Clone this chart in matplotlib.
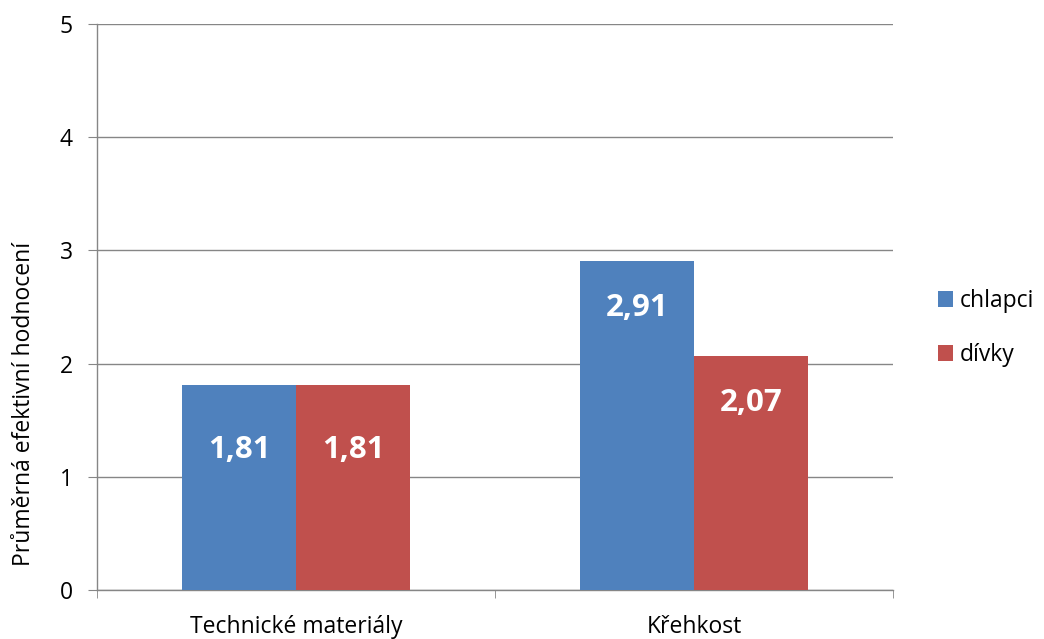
import matplotlib
matplotlib.use("Agg")
import matplotlib.pyplot as plt
import numpy as np
from matplotlib.patches import Patch

plt.rcParams['font.family'] = ['Open Sans', 'DejaVu Sans']

categories = ["Technické materiály", "Křehkost"]
series_names = ["chlapci", "dívky"]
chlapci = [1.81, 2.91]
divky = [1.81, 2.07]
colors = ["#4F81BD", "#C0504D"]
y_ticks = [0, 1, 2, 3, 4, 5]
y_label = "Průměrná efektivní hodnocení"

fig = plt.figure(figsize=(10.44, 6.39), dpi=100)
ax = fig.add_axes([97/1044, 1 - 590/639, (893-97)/1044, (590-24)/639])

x = np.arange(len(categories))
w = 0.286
grey = "#868686"
fs = 16.5

# value labels sit a bit below the bar top (deeper for the shorter first group)
label_drop = [0.57, 0.42]

for vals, col, off in [(chlapci, colors[0], -w/2), (divky, colors[1], w/2)]:
    bars = ax.bar(x + off, vals, width=w, color=col, zorder=3)
    for i, (b, v) in enumerate(zip(bars, vals)):
        ax.text(b.get_x() + b.get_width()/2, v - label_drop[i],
                f"{v:.2f}".replace(".", ","), ha="center", va="center",
                color="white", fontsize=22.5, fontweight="bold", zorder=4)

ax.set_xlim(-0.5, len(categories) - 0.5)
ax.set_ylim(0, 5)
ax.set_yticks(y_ticks)
ax.set_yticklabels([str(t) for t in y_ticks], fontsize=fs)
ax.yaxis.grid(True, color=grey, linewidth=1, zorder=0)
ax.set_axisbelow(True)

ax.set_xticks(x)
ax.set_xticklabels(categories, fontsize=fs)
ax.tick_params(axis="x", length=0, pad=18)
ax.set_xticks(np.arange(-0.5, len(categories)), minor=True)
ax.tick_params(axis="x", which="minor", length=5.5, color=grey)
ax.tick_params(axis="y", length=6.5, color=grey, pad=11)

for s in ["top", "right"]:
    ax.spines[s].set_visible(False)
for s in ["left", "bottom"]:
    ax.spines[s].set_color(grey)
    ax.spines[s].set_linewidth(1)

ax.set_ylabel(y_label, fontsize=fs)
ax.yaxis.set_label_coords(-0.077, 0.329)

handles = [Patch(facecolor=c, edgecolor="none") for c in colors]
fig.legend(handles, series_names, loc="center left",
           bbox_to_anchor=(917/1044, 1 - 328/639), frameon=False,
           fontsize=fs, handlelength=0.68, handleheight=0.68,
           handletextpad=0.3, labelspacing=1.3)

fig.savefig("out.png", dpi=100)
